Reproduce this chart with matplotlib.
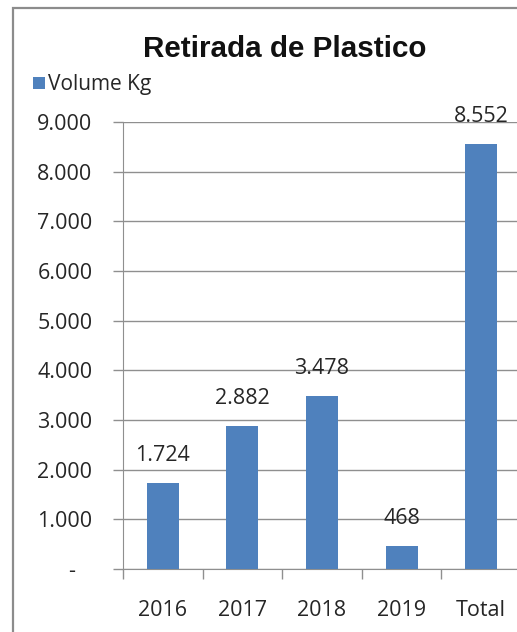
import matplotlib
matplotlib.use("Agg")
import matplotlib.pyplot as plt
from matplotlib.patches import Rectangle
from matplotlib.ticker import FixedLocator

categories = ["2016", "2017", "2018", "2019", "Total"]
values = [1724, 2882, 3478, 468, 8552]
value_labels = ["1.724", "2.882", "3.478", "468", "8.552"]
yticks = [0, 1000, 2000, 3000, 4000, 5000, 6000, 7000, 8000, 9000]
ytick_labels = ["-   ", "1.000", "2.000", "3.000", "4.000", "5.000", "6.000", "7.000", "8.000", "9.000"]

W, H = 517, 632
fig = plt.figure(figsize=(W / 100, H / 100), dpi=100)
fig.patch.set_facecolor("white")

# outer chart border (partially cropped in reference)
fig.patches.append(Rectangle((12.5 / W, -0.1), 1.2, 1 - 8 / H + 0.1, transform=fig.transFigure,
                             fill=False, edgecolor="#8c8c8c", linewidth=1.6))

ax = fig.add_axes([123 / W, 1 - 569 / H, (521 - 123) / W, (569 - 122) / H])
x = list(range(len(categories)))
color = "#4F81BD"
ax.bar(x, values, width=0.4, color=color, zorder=3, label="Volume Kg")
ax.set_xlim(-0.5, len(categories) - 0.5)
ax.set_ylim(0, 9000)
ax.set_yticks(yticks)
ax.set_yticklabels(ytick_labels)
ax.yaxis.grid(True, color="#8f8f8f", linewidth=1.0, zorder=0)
ax.set_axisbelow(True)

ax.set_xticks(x)
ax.set_xticklabels(categories)
ax.xaxis.set_minor_locator(FixedLocator([i - 0.5 for i in range(len(categories) + 1)]))
ax.tick_params(axis="x", which="major", length=0, pad=22.5, labelsize=15.5)
ax.tick_params(axis="x", which="minor", length=7, width=1, color="#8f8f8f", direction="out")
ax.tick_params(axis="y", length=7, width=1, color="#8f8f8f", direction="out", labelsize=15.5, pad=15)
for lab in ax.get_xticklabels() + ax.get_yticklabels():
    lab.set_fontfamily("Open Sans")
    lab.set_color("#262626")

for s in ["top", "right"]:
    ax.spines[s].set_visible(False)
ax.spines["left"].set_color("#8f8f8f")
ax.spines["bottom"].set_color("#8f8f8f")

for xi, v, lbl in zip(x, values, value_labels):
    ax.annotate(lbl, (xi, v), xytext=(0, 16), textcoords="offset points", ha="center", va="baseline",
                fontsize=15.5, fontfamily="Open Sans", color="#262626")

fig.text(285 / W, 1 - 57 / H, "Retirada de Plastico", ha="center", va="baseline",
         fontsize=21.3, fontweight="bold", fontfamily="Liberation Sans", color="#111111")

# legend
fig.patches.append(Rectangle((33 / W, 1 - 89 / H), 12 / W, 12 / H, transform=fig.transFigure,
                             facecolor=color, edgecolor="none"))
fig.text(48 / W, 1 - 90 / H, "Volume Kg", ha="left", va="baseline", fontsize=15,
         fontfamily="Open Sans", color="#262626")

fig.savefig("out.png", dpi=100)
